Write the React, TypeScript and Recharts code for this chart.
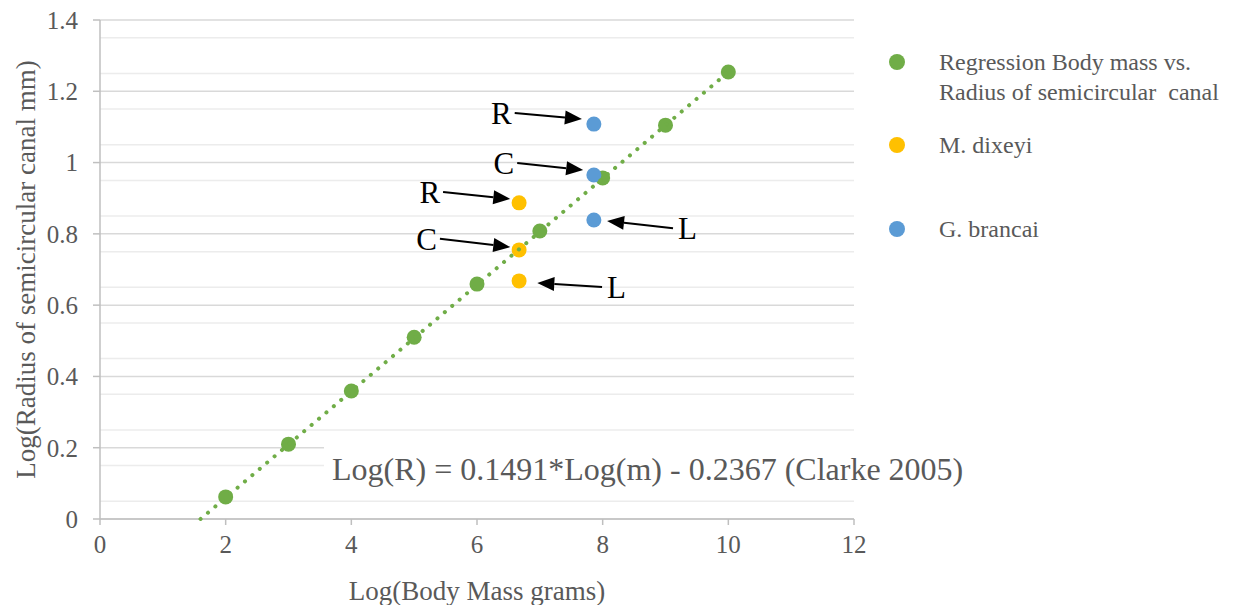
import React from 'react';
import {
  ScatterChart, Scatter, XAxis, YAxis, CartesianGrid, ReferenceLine
} from 'recharts';

// values
const regressionX = [2, 3, 4, 5, 6, 7, 8, 9, 10];
const regressionY = [0.062, 0.21, 0.359, 0.51, 0.659, 0.808, 0.957, 1.105, 1.254];

const dixeyiX = [6.67, 6.67, 6.67];
const dixeyiY = [0.887, 0.755, 0.668];

const brancaiX = [7.86, 7.86, 7.86];
const brancaiY = [1.108, 0.965, 0.839];

const trendX = [1.6, 10];
const trendY = [0, 1.254];

const xTicks = [0, 2, 4, 6, 8, 10, 12];
const yTicks = [0, 0.2, 0.4, 0.6, 0.8, 1, 1.2, 1.4];
const yMinorTicks = [
  0.05, 0.1, 0.15, 0.25, 0.3, 0.35, 0.45, 0.5, 0.55, 0.65, 0.7, 0.75,
  0.85, 0.9, 0.95, 1.05, 1.1, 1.15, 1.25, 1.3, 1.35,
];

// arrow annotations (R = right, C = common, L = lateral canal)
const arrowLabels = ['R', 'C', 'R', 'C', 'L', 'L'];
const arrowSides = ['left', 'left', 'left', 'left', 'right', 'right'];
const arrowFrom = [[6.6, 1.139], [6.64, 0.999], [5.46, 0.9175], [5.41, 0.786], [7.99, 0.651], [9.12, 0.816]];
const arrowTo = [[7.67, 1.122], [7.69, 0.979], [6.53, 0.898], [6.53, 0.763], [6.96, 0.662], [8.07, 0.836]];

const GREEN = '#70AD47';
const ORANGE = '#FFC000';
const BLUE = '#5B9BD5';
const TEXT = '#595959';
const FONT = "'Liberation Serif', 'Times New Roman', serif";

const zip = (xs: number[], ys: number[]) => xs.map((x, i) => ({ x, y: ys[i] }));

const regression = zip(regressionX, regressionY);
const dixeyi = zip(dixeyiX, dixeyiY);
const brancai = zip(brancaiX, brancaiY);
const trend = zip(trendX, trendY);

const dot = (color: string) => (p: any) => (
  <circle cx={p.cx} cy={p.cy} r={7.5} fill={color} />
);

const arrowShape = (label: string, side: string) => (p: any) => {
  const { x1, y1, x2, y2 } = p;
  const a = Math.atan2(y2 - y1, x2 - x1);
  const head = 17;
  const half = 7;
  const bx = x2 - head * Math.cos(a);
  const by = y2 - head * Math.sin(a);
  const nx = -Math.sin(a) * half;
  const ny = Math.cos(a) * half;
  const tx = side === 'left' ? x1 - 3 : x1 + 5;
  return (
    <g>
      <line x1={x1} y1={y1} x2={bx} y2={by} stroke="#000" strokeWidth={2} />
      <polygon points={`${x2},${y2} ${bx + nx},${by + ny} ${bx - nx},${by - ny}`} fill="#000" />
      <text x={tx} y={y1} dy="0.35em" textAnchor={side === 'left' ? 'end' : 'start'}
        fontFamily={FONT} fontSize={31} fill="#000">{label}</text>
    </g>
  );
};

const fmt = (v: number) => String(Number(v.toFixed(2)));

const legendItems = [
  { color: GREEN, lines: ['Regression Body mass vs.', 'Radius of semicircular\u00a0 canal'], top: 47 },
  { color: ORANGE, lines: ['M. dixeyi'], top: 130 },
  { color: BLUE, lines: ['G. brancai'], top: 214 },
];

export default function App() {
  return (
    <div style={{ position: 'relative', width: 1237, height: 605, background: '#fff', fontFamily: FONT }}>
      <style>{`body { margin: 0; }`}</style>
      <ScatterChart width={1237} height={605} margin={{ top: 20, right: 383, left: 0, bottom: 0 }}>
        <CartesianGrid vertical={false} horizontalValues={yMinorTicks} stroke="#ececec" strokeWidth={1.5} />
        <CartesianGrid vertical={false} stroke="#d9d9d9" strokeWidth={1.5} />
        <XAxis
          type="number"
          dataKey="x"
          domain={[0, 12]}
          ticks={xTicks}
          height={86}
          stroke="#bfbfbf"
          strokeWidth={1.5}
          tickSize={6}
          tickMargin={10}
          tick={{ fill: TEXT, fontSize: 25, fontFamily: FONT }}
          label={{ value: 'Log(Body Mass grams)', position: 'insideBottom', offset: 5, fill: TEXT, fontSize: 27, fontFamily: FONT }}
        />
        <YAxis
          type="number"
          dataKey="y"
          domain={[0, 1.4]}
          ticks={yTicks}
          tickFormatter={fmt}
          width={100}
          stroke="#bfbfbf"
          strokeWidth={1.5}
          tickSize={7}
          tickMargin={15}
          tick={{ fill: TEXT, fontSize: 25, fontFamily: FONT }}
          label={{
            content: (p: any) => {
              const vb = p.viewBox;
              const cx = 26;
              const cy = vb.y + vb.height / 2;
              return (
                <text x={cx} y={cy} dy="0.35em" textAnchor="middle" transform={`rotate(-90 ${cx} ${cy})`}
                  fill={TEXT} fontSize={27} fontFamily={FONT}>
                  Log(Radius of semicircular canal mm)
                </text>
              );
            },
          }}
        />
        <Scatter name="Regression" data={regression} fill={GREEN} shape={dot(GREEN)} isAnimationActive={false} />
        <Scatter name="M. dixeyi" data={dixeyi} fill={ORANGE} shape={dot(ORANGE)} isAnimationActive={false} />
        <Scatter name="G. brancai" data={brancai} fill={BLUE} shape={dot(BLUE)} isAnimationActive={false} />
        <Scatter
          name="trend"
          data={trend}
          fill={GREEN}
          line={{ stroke: GREEN, strokeWidth: 4, strokeDasharray: '0.1 9.6', strokeLinecap: 'round' }}
          shape={() => <g />}
          legendType="none"
          isAnimationActive={false}
        />
        {arrowLabels.map((lab, i) => (
          <ReferenceLine
            key={i}
            segment={[{ x: arrowFrom[i][0], y: arrowFrom[i][1] }, { x: arrowTo[i][0], y: arrowTo[i][1] }]}
            shape={arrowShape(lab, arrowSides[i])}
          />
        ))}
      </ScatterChart>

      <div style={{
        position: 'absolute', left: 324, top: 440, width: 652, height: 58, background: '#fff',
        color: TEXT, fontSize: 32, lineHeight: '58px', paddingLeft: 8, boxSizing: 'border-box', whiteSpace: 'nowrap',
      }}>
        Log(R) = 0.1491*Log(m) - 0.2367 (Clarke 2005)
      </div>

      {legendItems.map((it, i) => (
        <div key={i} style={{ position: 'absolute', left: 889, top: it.top, display: 'flex', alignItems: 'flex-start' }}>
          <div style={{ width: 16, height: 16, borderRadius: 8, background: it.color, marginTop: 7 }} />
          <div style={{ marginLeft: 34, color: TEXT, fontSize: 24, lineHeight: '30px', whiteSpace: 'nowrap' }}>
            {it.lines.map((l, j) => <div key={j}>{l}</div>)}
          </div>
        </div>
      ))}
    </div>
  );
}
